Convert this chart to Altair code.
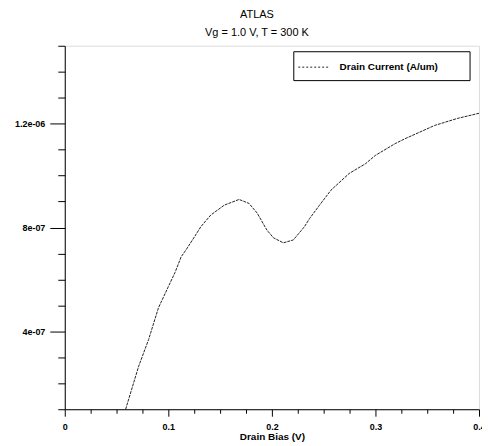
import altair as alt
import pandas as pd

# Drain current curve (x: drain bias V, y: current A/um)
bias = [0.0588, 0.0714, 0.0810, 0.0905, 0.1000, 0.1064, 0.1124, 0.1171, 0.1254,
        0.1314, 0.1410, 0.1540, 0.1683, 0.1778, 0.1857, 0.1952, 0.2016, 0.2111,
        0.2207, 0.2314, 0.2365, 0.2460, 0.2571, 0.2746, 0.2905, 0.3000, 0.3190,
        0.3286, 0.3571, 0.3790, 0.4000]
current_e7 = [1.00, 2.66, 3.69, 4.91, 5.72, 6.26, 6.87, 7.14, 7.65,
              8.03, 8.48, 8.86, 9.08, 8.93, 8.56, 7.90, 7.60, 7.41,
              7.52, 8.03, 8.35, 8.86, 9.44, 10.08, 10.46, 10.78, 11.23,
              11.42, 11.93, 12.20, 12.40]
series_name = "Drain Current (A/um)"

x_ticks = [0, 0.025, 0.05, 0.075, 0.1, 0.125, 0.15, 0.175, 0.2, 0.225, 0.25,
           0.275, 0.3, 0.325, 0.35, 0.375, 0.4]
x_label_vals = [0, 0.1, 0.2, 0.3, 0.4]
x_label_text = ["0", "0.1", "0.2", "0.3", "0.4"]
y_ticks_e7 = [1, 2, 3, 4, 5, 6, 7, 8, 9, 10, 11, 12, 13, 14, 15]
y_label_vals_e7 = [4, 8, 12]
y_label_text = ["4e-07", "8e-07", "1.2e-06"]

df = pd.DataFrame({
    "bias": bias,
    "current": [v * 1e-7 for v in current_e7],
    "series": series_name,
})

FONT = "Liberation Sans"

x_expr = " : ".join(
    f"abs(datum.value - {v}) < 1e-6 ? '{t}'" for v, t in zip(x_label_vals, x_label_text)
) + " : ''"
y_expr = " : ".join(
    f"round(datum.value * 1e7) == {v} ? '{t}'" for v, t in zip(y_label_vals_e7, y_label_text)
) + " : ''"
x_major = "abs(datum.value * 10 - round(datum.value * 10)) < 1e-6"
y_major = "round(datum.value * 1e7) % 4 == 0"

line = alt.Chart(df).mark_line(strokeWidth=1, strokeDash=[3, 1]).encode(
    x=alt.X("bias:Q",
            scale=alt.Scale(domain=[0, 0.4], nice=False, zero=False),
            axis=alt.Axis(
                values=x_ticks, labelExpr=x_expr, title="Drain Bias (V)",
                tickSize={"condition": {"test": x_major, "value": 7}, "value": 4},
                labelPadding=6, titlePadding=0, grid=False,
                labelFont=FONT, labelFontSize=9, labelFontWeight="bold",
                titleFont=FONT, titleFontSize=10, titleFontWeight="bold",
                domainColor="black", tickColor="black",
                labelColor="black", titleColor="black", labelFlush=False,
            )),
    y=alt.Y("current:Q",
            scale=alt.Scale(domain=[1e-7, 1.5e-6], nice=False, zero=False),
            axis=alt.Axis(
                values=[v * 1e-7 for v in y_ticks_e7], labelExpr=y_expr, title=None,
                tickSize={"condition": {"test": y_major, "value": 15}, "value": 7},
                labelPadding=5, grid=False,
                labelFont=FONT, labelFontSize=9, labelFontWeight="bold",
                domainColor="black", tickColor="black", labelColor="black",
                labelFlush=False,
            )),
    color=alt.Color("series:N",
                    scale=alt.Scale(domain=[series_name], range=["#222222"]),
                    legend=alt.Legend(
                        title=None, orient="none", legendX=234, legendY=6,
                        symbolType="stroke", symbolSize=900, symbolStrokeWidth=1,
                        symbolDash=[2, 2], labelFont=FONT, labelFontSize=10,
                        labelFontWeight="bold", labelColor="black", labelOffset=11,
                        padding=0,
                    )),
)

box = alt.Chart(pd.DataFrame({"k": [0]})).mark_rect(
    filled=False, stroke="black", strokeWidth=1
).encode(
    x=alt.value(230), x2=alt.value(407), y=alt.value(6), y2=alt.value(35)
)

chart = alt.layer(line, box).properties(
    width=416, height=365,
    autosize=alt.AutoSizeParams(type="none"),
    padding={"left": 57, "top": 37, "right": 3, "bottom": 34},
    title=alt.TitleParams(
        text="ATLAS", subtitle="Vg = 1.0 V, T = 300 K", anchor="middle",
        font=FONT, fontSize=11, fontWeight="normal", color="black",
        subtitleFont=FONT, subtitleFontSize=11, subtitleColor="black",
        subtitlePadding=7, offset=7, dx=-15,
    ),
).configure_view(stroke="black", strokeWidth=1).configure(background="white")

chart.save("out.html", embed_options={"renderer": "svg", "actions": False})
